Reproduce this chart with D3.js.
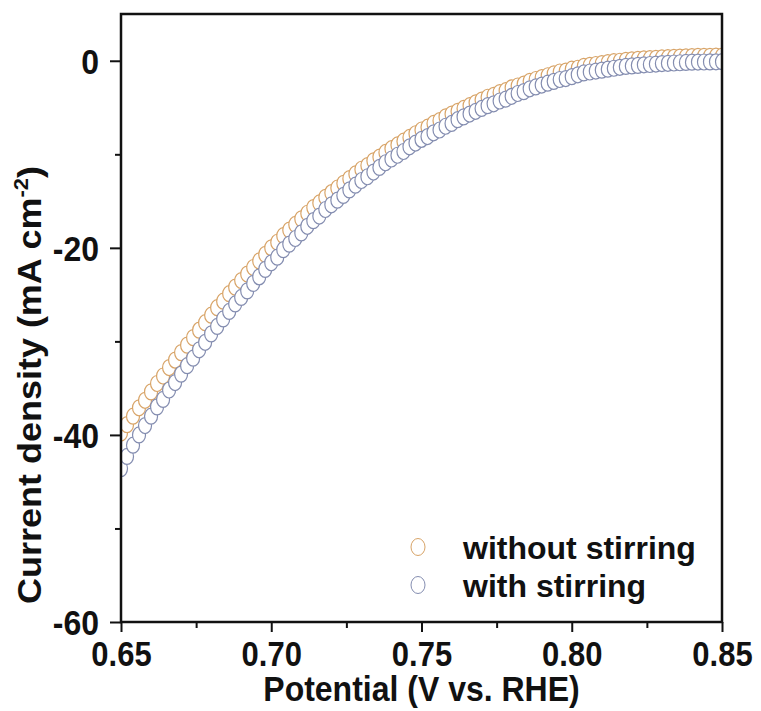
<!DOCTYPE html>
<html>
<head>
<meta charset="utf-8">
<script src="https://cdn.jsdelivr.net/npm/d3@7"></script>
<style>
  body { margin: 0; background: #fff; }
  svg text { font-family: "Liberation Sans", Arial, sans-serif; font-weight: bold; fill: #111; }
</style>
</head>
<body>
<div id="chart-container"></div>
<script>
// Potential (V vs. RHE), one sample every 2 mV
var potential = [
  0.650, 0.652, 0.654, 0.656, 0.658, 0.660, 0.662, 0.664, 0.666, 0.668,
  0.670, 0.672, 0.674, 0.676, 0.678, 0.680, 0.682, 0.684, 0.686, 0.688,
  0.690, 0.692, 0.694, 0.696, 0.698, 0.700, 0.702, 0.704, 0.706, 0.708,
  0.710, 0.712, 0.714, 0.716, 0.718, 0.720, 0.722, 0.724, 0.726, 0.728,
  0.730, 0.732, 0.734, 0.736, 0.738, 0.740, 0.742, 0.744, 0.746, 0.748,
  0.750, 0.752, 0.754, 0.756, 0.758, 0.760, 0.762, 0.764, 0.766, 0.768,
  0.770, 0.772, 0.774, 0.776, 0.778, 0.780, 0.782, 0.784, 0.786, 0.788,
  0.790, 0.792, 0.794, 0.796, 0.798, 0.800, 0.802, 0.804, 0.806, 0.808,
  0.810, 0.812, 0.814, 0.816, 0.818, 0.820, 0.822, 0.824, 0.826, 0.828,
  0.830, 0.832, 0.834, 0.836, 0.838, 0.840, 0.842, 0.844, 0.846, 0.848,
  0.850
];

// Current density (mA cm-2)
var withoutStirring = [
  -39.8, -38.9, -38.0, -37.1, -36.3, -35.4, -34.5, -33.7, -32.8, -32.0,
  -31.2, -30.4, -29.6, -28.8, -28.0, -27.2, -26.4, -25.7, -24.9, -24.2,
  -23.5, -22.8, -22.1, -21.4, -20.7, -20.0, -19.4, -18.7, -18.1, -17.5,
  -16.9, -16.3, -15.7, -15.2, -14.6, -14.1, -13.6, -13.1, -12.6, -12.1,
  -11.6, -11.2, -10.7, -10.3, -9.8, -9.4, -9.0, -8.6, -8.2, -7.8,
  -7.4, -7.1, -6.7, -6.4, -6.0, -5.7, -5.4, -5.1, -4.8, -4.5,
  -4.2, -3.9, -3.7, -3.4, -3.2, -2.9, -2.7, -2.5, -2.2, -2.0,
  -1.8, -1.6, -1.4, -1.2, -1.1, -0.9, -0.8, -0.6, -0.5, -0.4,
  -0.3, -0.2, -0.1, -0.05, 0.05, 0.1, 0.15, 0.2, 0.22, 0.26,
  0.3, 0.33, 0.36, 0.39, 0.42, 0.45, 0.46, 0.47, 0.48, 0.49,
  0.5
];

var withStirring = [
  -43.6, -42.3, -41.1, -40.0, -39.0, -38.0, -37.0, -36.2, -35.2, -34.4,
  -33.5, -32.6, -31.8, -30.9, -30.1, -29.2, -28.4, -27.6, -26.8, -26.0,
  -25.3, -24.6, -23.8, -23.1, -22.3, -21.6, -21.0, -20.2, -19.6, -19.0,
  -18.4, -17.7, -17.1, -16.6, -15.9, -15.4, -14.9, -14.4, -13.8, -13.3,
  -12.8, -12.4, -11.9, -11.4, -10.9, -10.5, -10.1, -9.7, -9.2, -8.8,
  -8.4, -8.1, -7.7, -7.4, -7.0, -6.7, -6.3, -6.0, -5.7, -5.4,
  -5.1, -4.8, -4.6, -4.3, -4.1, -3.8, -3.5, -3.3, -3.0, -2.8,
  -2.6, -2.4, -2.2, -2.0, -1.9, -1.7, -1.5, -1.3, -1.2, -1.1,
  -1.0, -0.9, -0.8, -0.7, -0.6, -0.55, -0.49, -0.43, -0.4, -0.35,
  -0.3, -0.27, -0.24, -0.21, -0.18, -0.15, -0.14, -0.13, -0.12, -0.11,
  -0.1
];

var xTicks = [0.65, 0.70, 0.75, 0.80, 0.85];
var xMinorTicks = [0.675, 0.725, 0.775, 0.825];
var yTicks = [-60, -40, -20, 0];
var yMinorTicks = [-50, -30, -10];

var seriesNames = ["without stirring", "with stirring"];
var seriesColors = ["#d8a468", "#848db0"];

// Layout
var margin = { top: 14, right: 39, bottom: 89, left: 121 },
  width = 761 - margin.left - margin.right,
  height = 711 - margin.top - margin.bottom;

var svg = d3.select("#chart-container")
  .append("svg")
  .attr("width", 761)
  .attr("height", 711)
  .append("g")
  .attr("transform", "translate(" + margin.left + "," + margin.top + ")");

var xScale = d3.scaleLinear().domain([0.65, 0.85]).range([0, width]);
var yScale = d3.scaleLinear().domain([-60, 5]).range([height, 0]);

svg.append("clipPath")
  .attr("id", "plot-clip")
  .append("rect")
  .attr("width", width)
  .attr("height", height);

// Scatter markers: hollow, white filled so each one covers the one before
var series = [withoutStirring, withStirring];
var plot = svg.append("g").attr("clip-path", "url(#plot-clip)");

series.forEach(function(values, s) {
  plot.append("g")
    .selectAll("ellipse")
    .data(potential)
    .enter()
    .append("ellipse")
    .attr("cx", function(d) { return xScale(d); })
    .attr("cy", function(d, i) { return yScale(values[i]); })
    .attr("rx", 6.5)
    .attr("ry", 8)
    .attr("fill", "#fff")
    .attr("stroke", seriesColors[s])
    .attr("stroke-width", 1.2);
});

// Axes
var hyphen = function(f) { return function(d) { return f(d).replace("\u2212", "-"); }; };

var xAxis = svg.append("g")
  .attr("transform", "translate(0," + height + ")")
  .call(d3.axisBottom(xScale).tickValues(xTicks).tickSize(10).tickSizeOuter(0)
    .tickFormat(d3.format(".2f")));

var xMinor = svg.append("g")
  .attr("transform", "translate(0," + height + ")")
  .call(d3.axisBottom(xScale).tickValues(xMinorTicks).tickSize(6).tickSizeOuter(0).tickFormat(""));

var yAxis = svg.append("g")
  .call(d3.axisLeft(yScale).tickValues(yTicks).tickSize(11).tickSizeOuter(0).tickPadding(11)
    .tickFormat(hyphen(d3.format("d"))));

var yMinor = svg.append("g")
  .call(d3.axisLeft(yScale).tickValues(yMinorTicks).tickSize(6).tickSizeOuter(0).tickFormat(""));

[xAxis, xMinor, yAxis, yMinor].forEach(function(a) {
  a.select(".domain").remove();
  a.selectAll(".tick line").attr("stroke", "#111").attr("stroke-width", 2);
});

// tick labels are a little taller than wide in the original
xAxis.selectAll(".tick text")
  .attr("font-size", 31)
  .style("font-family", null)
  .attr("y", 39)
  .attr("dy", null)
  .attr("transform", "scale(1,1.12)");

yAxis.selectAll(".tick text")
  .attr("font-size", 32)
  .style("font-family", null)
  .attr("dy", "0.36em")
  .attr("transform", "scale(1,1.12)");

// Frame
svg.append("rect")
  .attr("width", width)
  .attr("height", height)
  .attr("fill", "none")
  .attr("stroke", "#111")
  .attr("stroke-width", 2.5);

// Axis titles
svg.append("text")
  .attr("x", width / 2)
  .attr("y", 625)
  .attr("transform", "scale(1,1.1)")
  .attr("text-anchor", "middle")
  .attr("font-size", 32)
  .text("Potential (V vs. RHE)");

var yTitle = svg.append("text")
  .attr("transform", "translate(" + (-margin.left + 41) + "," + (385 - margin.top) + ") rotate(-90) scale(1,0.9)")
  .attr("text-anchor", "middle")
  .attr("font-size", 36);
yTitle.append("tspan").text("Current density (mA cm");
yTitle.append("tspan").attr("font-size", 22).attr("dy", -14).text("-2");
yTitle.append("tspan").attr("dy", 14).text(")");

// Legend
var legend = svg.append("g")
  .attr("transform", "translate(297,533)");

var legendItems = legend.selectAll(".legend-item")
  .data(seriesNames)
  .enter()
  .append("g")
  .attr("class", "legend-item")
  .attr("transform", function(d, i) { return "translate(0," + (i * 38) + ")"; });

legendItems.append("ellipse")
  .attr("rx", 7)
  .attr("ry", 8.5)
  .attr("fill", "#fff")
  .attr("stroke", function(d, i) { return seriesColors[i]; })
  .attr("stroke-width", 1);

legendItems.append("text")
  .attr("x", 45)
  .attr("y", 12)
  .attr("font-size", 32)
  .text(function(d) { return d; });
</script>
</body>
</html>
